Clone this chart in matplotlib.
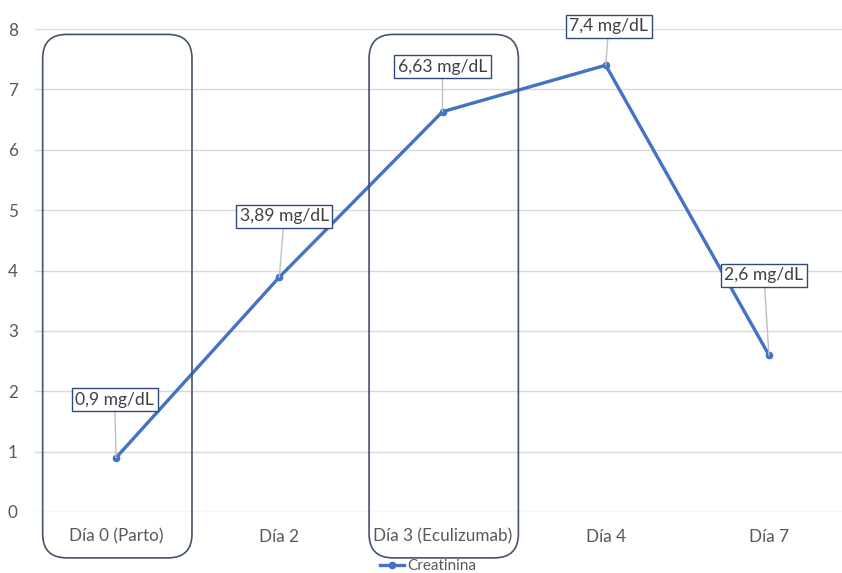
import matplotlib
matplotlib.use("Agg")
import matplotlib.pyplot as plt
from matplotlib.patches import FancyBboxPatch

categories = ["Día 0 (Parto)", "Día 2", "Día 3 (Eculizumab)", "Día 4", "Día 7"]
creatinina = [0.9, 3.89, 6.63, 7.4, 2.6]
value_labels = ["0,9 mg/dL", "3,89 mg/dL", "6,63 mg/dL", "7,4 mg/dL", "2,6 mg/dL"]
series_name = "Creatinina"
highlighted = [0, 2]

# label offsets in pixels (layout)
label_offsets = [(-1.5, 58), (5, 61), (0, 45), (3, 39), (-5, 80)]

plt.rcParams['font.family'] = ['Lato', 'DejaVu Sans']

W, H = 842, 573
fig = plt.figure(figsize=(W / 100, H / 100), dpi=100)
left_px, right_px = 34.5, 850.5
top_px, bot_px = 29, 512
ax = fig.add_axes([left_px / W, (H - bot_px) / H, (right_px - left_px) / W, (bot_px - top_px) / H])

x = list(range(len(categories)))
ax.set_xlim(-0.5, len(categories) - 0.5)
ax.set_ylim(0, 8)
ax.set_yticks(range(0, 9))
ax.grid(axis='y', color='#D9D9D9', lw=1)
ax.set_axisbelow(True)
for s in ax.spines.values():
    s.set_visible(False)
ax.tick_params(axis='both', length=0, colors='#595959', labelsize=12.3)
ax.tick_params(axis='y', pad=12)
ax.tick_params(axis='x', pad=12)
ax.set_xticks(x)
ax.set_xticklabels(categories)

line, = ax.plot(x, creatinina, color='#4472C4', lw=2.4, marker='o', ms=4.5,
                label=series_name, zorder=3)

for xi, yi, lab, (dx, dy) in zip(x, creatinina, value_labels, label_offsets):
    ax.annotate(lab, xy=(xi, yi), xytext=(dx, dy), textcoords='offset pixels',
                ha='center', va='center', fontsize=12.6, color='#404040',
                bbox=dict(boxstyle='square,pad=0.2', fc='white', ec='#2F4A7A', lw=1),
                arrowprops=dict(arrowstyle='-', color='#BFBFBF', lw=1, shrinkA=0, shrinkB=0),
                zorder=4, annotation_clip=False)

# rounded highlight boxes
px_per_x = (right_px - left_px) / len(categories)
px_per_y = (bot_px - top_px) / 8
aspect = px_per_x / px_per_y
for i in highlighted:
    x0, x1 = i - 0.45, i + 0.465
    y0, y1 = -0.76, 7.91
    box = FancyBboxPatch((x0, y0), x1 - x0, y1 - y0,
                         boxstyle='round,pad=0,rounding_size=%f' % (24 / px_per_x),
                         mutation_aspect=aspect, fc='none', ec='#44546A', lw=1.2,
                         clip_on=False, transform=ax.transData, zorder=5)
    ax.add_patch(box)

fig.legend(handles=[line], loc='center', bbox_to_anchor=(428 / W, 1 - 566 / H),
           frameon=False, fontsize=11, labelcolor='#595959',
           handlelength=1.6, handletextpad=0.2, borderpad=0)

fig.savefig('out.png', dpi=100)
